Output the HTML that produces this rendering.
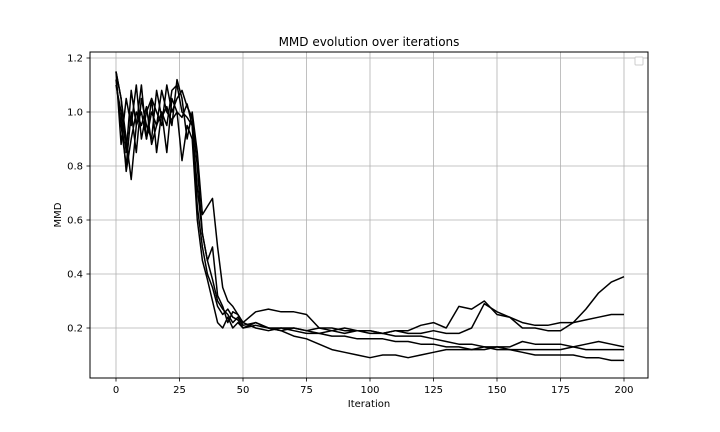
<!DOCTYPE html>
<html><head><meta charset="utf-8"><style>
body{margin:0;background:#fff;}
svg{display:block;font-family:"DejaVu Sans","Liberation Sans",sans-serif;}
</style></head><body>
<svg width="720" height="432" viewBox="0 0 720 432">
<rect width="720" height="432" fill="#fff"/>
<g id="grid"></g>
<g id="series"></g>
<rect x="90" y="52" width="558" height="326" fill="none" stroke="#000" stroke-width="1"/>
<g id="ticks"></g>
<text x="369" y="46" text-anchor="middle" font-size="12">MMD evolution over iterations</text>
<text x="369" y="407" text-anchor="middle" font-size="10">Iteration</text>
<text x="61" y="215" text-anchor="middle" font-size="10" transform="rotate(-90 61 215)">MMD</text>
<rect x="635" y="57" width="8" height="8" rx="1" fill="#fff" stroke="#ccc"/>
</svg>
<script>
const xIter=[0,2,4,6,8,10,12,14,16,18,20,22,24,26,28,30,32,34,36,38,40,42,44,46,48,50,55,60,65,70,75,80,85,90,95,100,105,110,115,120,125,130,135,140,145,150,155,160,165,170,175,180,185,190,195,200];
const runA=[1.15,0.88,1.05,0.95,1.1,0.9,1.0,1.05,0.85,1.0,0.95,1.08,1.1,1.0,0.98,0.95,0.72,0.55,0.45,0.38,0.3,0.27,0.25,0.22,0.24,0.21,0.22,0.2,0.19,0.2,0.19,0.18,0.19,0.18,0.19,0.19,0.18,0.19,0.19,0.21,0.22,0.2,0.28,0.27,0.3,0.25,0.24,0.2,0.2,0.19,0.19,0.22,0.27,0.33,0.37,0.39];
const runB=[1.12,0.95,0.8,1.0,0.85,1.05,0.95,0.9,1.08,0.98,1.02,0.95,1.12,1.05,0.9,1.0,0.85,0.62,0.65,0.68,0.5,0.35,0.3,0.28,0.25,0.22,0.26,0.27,0.26,0.26,0.25,0.2,0.19,0.2,0.19,0.19,0.18,0.19,0.18,0.18,0.19,0.18,0.18,0.2,0.29,0.26,0.24,0.22,0.21,0.21,0.22,0.22,0.23,0.24,0.25,0.25];
const runC=[1.1,1.0,0.78,0.9,1.0,0.95,1.02,0.88,0.95,1.0,0.85,1.05,1.0,0.98,1.03,0.95,0.65,0.5,0.4,0.35,0.28,0.25,0.27,0.24,0.23,0.2,0.21,0.2,0.2,0.19,0.18,0.18,0.17,0.17,0.16,0.16,0.16,0.15,0.15,0.14,0.14,0.13,0.13,0.12,0.12,0.13,0.13,0.15,0.14,0.14,0.14,0.13,0.14,0.15,0.14,0.13];
const runD=[1.15,1.05,0.85,1.08,0.95,1.0,0.9,1.05,1.0,0.95,1.1,1.0,1.05,1.08,1.02,0.98,0.8,0.55,0.45,0.5,0.32,0.28,0.22,0.26,0.25,0.22,0.2,0.19,0.2,0.2,0.19,0.2,0.2,0.19,0.19,0.18,0.18,0.17,0.17,0.17,0.16,0.15,0.14,0.14,0.13,0.12,0.12,0.12,0.12,0.12,0.12,0.13,0.12,0.12,0.12,0.12];
const runE=[1.15,1.05,0.9,0.75,0.95,1.1,0.9,1.0,0.95,1.08,1.0,0.97,1.0,0.82,0.95,0.9,0.6,0.45,0.38,0.3,0.22,0.2,0.24,0.2,0.22,0.2,0.22,0.2,0.19,0.17,0.16,0.14,0.12,0.11,0.1,0.09,0.1,0.1,0.09,0.1,0.11,0.12,0.12,0.12,0.13,0.13,0.12,0.11,0.1,0.1,0.1,0.1,0.09,0.09,0.08,0.08];
const xTicks=[0,25,50,75,100,125,150,175,200];
const yTicks=[0.2,0.4,0.6,0.8,1.0,1.2];
const yTickLabels=["0.2","0.4","0.6","0.8","1.0","1.2"];

const NS="http://www.w3.org/2000/svg";
function sx(v){return 116+v*(624-116)/200;}
function sy(v){return 328-(v-0.2)*270;}
const grid=document.getElementById('grid'),ticks=document.getElementById('ticks'),ser=document.getElementById('series');
function mk(tag,attrs,parent){const e=document.createElementNS(NS,tag);for(const k in attrs)e.setAttribute(k,attrs[k]);parent.appendChild(e);return e;}
xTicks.forEach(t=>{
  const x=sx(t);
  const g=mk('line',{x1:x,x2:x,y1:52,y2:378,stroke:'#b0b0b0','stroke-width':0.8},grid);
  
  
  const tk=mk('line',{x1:x,x2:x,y1:378,y2:381.5,stroke:'#000','stroke-width':0.8},ticks);
  
  
  const lb=mk('text',{x:x,y:393,'text-anchor':'middle','font-size':10},ticks);
  lb.textContent=String(t);
  
  
});
yTicks.forEach((t,i)=>{
  const y=sy(t);
  const g=mk('line',{x1:90,x2:648,y1:y,y2:y,stroke:'#b0b0b0','stroke-width':0.8},grid);
  
  
  const tk=mk('line',{x1:86.5,x2:90,y1:y,y2:y,stroke:'#000','stroke-width':0.8},ticks);
  
  
  const lb=mk('text',{x:83,y:y+3.5,'text-anchor':'end','font-size':10},ticks);
  lb.textContent=yTickLabels[i];
  
  
});
[runA,runB,runC,runD,runE].forEach((run,k)=>{
  const d=run.map((v,i)=>(i?'L':'M')+sx(xIter[i]).toFixed(1)+' '+sy(v).toFixed(1)).join(' ');
  const p=mk('path',{d:d,fill:'none',stroke:'#000','stroke-width':1.5,'stroke-linejoin':'round'},ser);
  
  
});
</script>
</body></html>
